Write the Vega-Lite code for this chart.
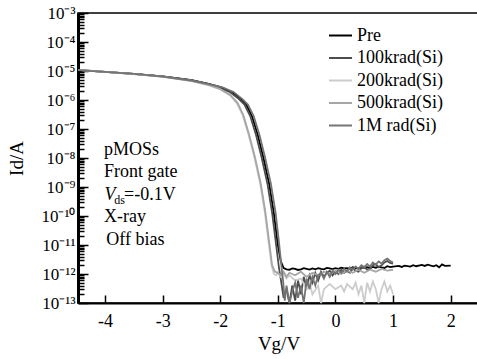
{
  "$schema": "https://vega.github.io/schema/vega-lite/v6.json",
  "autosize": {"type": "none"},
  "padding": {"left": 78, "top": 13, "right": 0, "bottom": 56},
  "width": 401,
  "height": 290,
  "background": "#ffffff",
  "config": {
    "view": {"stroke": "#000000", "strokeWidth": 1.5},
    "axis": {"grid": false, "domainColor": "#000000", "tickColor": "#000000", "labelColor": "#000000", "titleColor": "#000000", "labelFont": "Liberation Serif", "titleFont": "Liberation Serif", "titleFontWeight": "normal"}
  },
  "layer": [
    {
      "data": {"values": [
        {"s":"Pre","V":-4.47,"I":1.07e-5},{"s":"Pre","V":-4.0,"I":9.3e-6},{"s":"Pre","V":-3.5,"I":7.9e-6},{"s":"Pre","V":-3.0,"I":6.5e-6},{"s":"Pre","V":-2.5,"I":4.8e-6},{"s":"Pre","V":-2.2,"I":3.6e-6},{"s":"Pre","V":-2.0,"I":2.8e-6},{"s":"Pre","V":-1.8,"I":1.9e-6},{"s":"Pre","V":-1.65,"I":1.1e-6},{"s":"Pre","V":-1.55,"I":7.1e-7},{"s":"Pre","V":-1.45,"I":2.8e-7},{"s":"Pre","V":-1.35,"I":6.3e-8},{"s":"Pre","V":-1.25,"I":1.0e-8},{"s":"Pre","V":-1.15,"I":1.26e-9},{"s":"Pre","V":-1.07,"I":1.26e-10},{"s":"Pre","V":-1.0,"I":1.0e-11},{"s":"Pre","V":-0.95,"I":2.8e-12},{"s":"Pre","V":-0.9,"I":1.6e-12},
        {"s":"Pre","V":-0.85,"I":1.45e-12},{"s":"Pre","V":-0.8,"I":1.4e-12},{"s":"Pre","V":-0.75,"I":1.55e-12},{"s":"Pre","V":-0.7,"I":1.5e-12},{"s":"Pre","V":-0.65,"I":1.38e-12},{"s":"Pre","V":-0.6,"I":1.45e-12},{"s":"Pre","V":-0.55,"I":1.6e-12},{"s":"Pre","V":-0.5,"I":1.5e-12},{"s":"Pre","V":-0.45,"I":1.42e-12},{"s":"Pre","V":-0.4,"I":1.55e-12},{"s":"Pre","V":-0.35,"I":1.45e-12},{"s":"Pre","V":-0.3,"I":1.6e-12},{"s":"Pre","V":-0.25,"I":1.5e-12},{"s":"Pre","V":-0.2,"I":1.45e-12},{"s":"Pre","V":-0.15,"I":1.62e-12},{"s":"Pre","V":-0.1,"I":1.55e-12},{"s":"Pre","V":-0.05,"I":1.48e-12},{"s":"Pre","V":0.0,"I":1.58e-12},{"s":"Pre","V":0.05,"I":1.5e-12},{"s":"Pre","V":0.1,"I":1.65e-12},{"s":"Pre","V":0.15,"I":1.55e-12},{"s":"Pre","V":0.2,"I":1.6e-12},{"s":"Pre","V":0.25,"I":1.52e-12},{"s":"Pre","V":0.3,"I":1.7e-12},{"s":"Pre","V":0.35,"I":1.6e-12},{"s":"Pre","V":0.4,"I":1.55e-12},{"s":"Pre","V":0.45,"I":1.68e-12},{"s":"Pre","V":0.5,"I":1.62e-12},{"s":"Pre","V":0.55,"I":1.72e-12},{"s":"Pre","V":0.6,"I":1.6e-12},{"s":"Pre","V":0.65,"I":1.75e-12},{"s":"Pre","V":0.7,"I":1.65e-12},{"s":"Pre","V":0.75,"I":1.8e-12},{"s":"Pre","V":0.8,"I":1.7e-12},{"s":"Pre","V":0.85,"I":1.62e-12},{"s":"Pre","V":0.9,"I":1.85e-12},{"s":"Pre","V":0.95,"I":1.72e-12},{"s":"Pre","V":1.0,"I":1.8e-12},{"s":"Pre","V":1.1,"I":1.9e-12},{"s":"Pre","V":1.15,"I":1.75e-12},{"s":"Pre","V":1.2,"I":1.95e-12},{"s":"Pre","V":1.3,"I":1.8e-12},{"s":"Pre","V":1.35,"I":2.0e-12},{"s":"Pre","V":1.4,"I":1.85e-12},{"s":"Pre","V":1.5,"I":2.05e-12},{"s":"Pre","V":1.55,"I":1.9e-12},{"s":"Pre","V":1.6,"I":2.1e-12},{"s":"Pre","V":1.7,"I":1.85e-12},{"s":"Pre","V":1.75,"I":2.0e-12},{"s":"Pre","V":1.8,"I":1.7e-12},{"s":"Pre","V":1.85,"I":2.15e-12},{"s":"Pre","V":1.9,"I":1.9e-12},{"s":"Pre","V":2.0,"I":1.95e-12},

        {"s":"100krad(Si)","V":-4.47,"I":1.1e-5},{"s":"100krad(Si)","V":-4.0,"I":9.4e-6},{"s":"100krad(Si)","V":-3.5,"I":7.9e-6},{"s":"100krad(Si)","V":-3.0,"I":6.5e-6},{"s":"100krad(Si)","V":-2.5,"I":4.8e-6},{"s":"100krad(Si)","V":-2.2,"I":3.5e-6},{"s":"100krad(Si)","V":-2.03,"I":2.7e-6},{"s":"100krad(Si)","V":-1.83,"I":1.85e-6},{"s":"100krad(Si)","V":-1.68,"I":1.1e-6},{"s":"100krad(Si)","V":-1.58,"I":7e-7},{"s":"100krad(Si)","V":-1.48,"I":2.8e-7},{"s":"100krad(Si)","V":-1.38,"I":6.3e-8},{"s":"100krad(Si)","V":-1.28,"I":1e-8},{"s":"100krad(Si)","V":-1.18,"I":1.26e-9},{"s":"100krad(Si)","V":-1.1,"I":1.3e-10},{"s":"100krad(Si)","V":-1.03,"I":1e-11},{"s":"100krad(Si)","V":-0.98,"I":1.6e-12},{"s":"100krad(Si)","V":-0.94,"I":5e-13},{"s":"100krad(Si)","V":-0.9,"I":1.5e-13},{"s":"100krad(Si)","V":-0.85,"I":3e-13},{"s":"100krad(Si)","V":-0.8,"I":1e-13},{"s":"100krad(Si)","V":-0.75,"I":4e-13},{"s":"100krad(Si)","V":-0.7,"I":1.2e-13},{"s":"100krad(Si)","V":-0.65,"I":6e-13},{"s":"100krad(Si)","V":-0.6,"I":2e-13},{"s":"100krad(Si)","V":-0.55,"I":8e-13},{"s":"100krad(Si)","V":-0.5,"I":3e-13},{"s":"100krad(Si)","V":-0.45,"I":9e-13},{"s":"100krad(Si)","V":-0.4,"I":5e-13},{"s":"100krad(Si)","V":-0.35,"I":1.1e-12},{"s":"100krad(Si)","V":-0.3,"I":6e-13},{"s":"100krad(Si)","V":-0.25,"I":1.2e-12},{"s":"100krad(Si)","V":-0.2,"I":8e-13},{"s":"100krad(Si)","V":-0.15,"I":1.1e-12},{"s":"100krad(Si)","V":-0.1,"I":1.3e-12},{"s":"100krad(Si)","V":-0.05,"I":9e-13},{"s":"100krad(Si)","V":0.0,"I":1.2e-12},{"s":"100krad(Si)","V":0.05,"I":1.0e-12},{"s":"100krad(Si)","V":0.1,"I":1.4e-12},{"s":"100krad(Si)","V":0.15,"I":1.1e-12},{"s":"100krad(Si)","V":0.2,"I":1.3e-12},{"s":"100krad(Si)","V":0.25,"I":1.1e-12},{"s":"100krad(Si)","V":0.3,"I":1.6e-12},{"s":"100krad(Si)","V":0.35,"I":1.3e-12},{"s":"100krad(Si)","V":0.4,"I":1.2e-12},{"s":"100krad(Si)","V":0.45,"I":1.6e-12},{"s":"100krad(Si)","V":0.5,"I":1.8e-12},{"s":"100krad(Si)","V":0.55,"I":1.4e-12},{"s":"100krad(Si)","V":0.6,"I":1.5e-12},{"s":"100krad(Si)","V":0.65,"I":2.0e-12},{"s":"100krad(Si)","V":0.7,"I":2.2e-12},{"s":"100krad(Si)","V":0.75,"I":1.7e-12},{"s":"100krad(Si)","V":0.8,"I":2.0e-12},{"s":"100krad(Si)","V":0.85,"I":2.5e-12},{"s":"100krad(Si)","V":0.9,"I":2.8e-12},{"s":"100krad(Si)","V":0.95,"I":2.4e-12},{"s":"100krad(Si)","V":1.0,"I":2.3e-12},

        {"s":"200krad(Si)","V":-4.47,"I":1.1e-5},{"s":"200krad(Si)","V":-4.0,"I":9.3e-6},{"s":"200krad(Si)","V":-3.5,"I":7.8e-6},{"s":"200krad(Si)","V":-3.0,"I":6.3e-6},{"s":"200krad(Si)","V":-2.5,"I":4.5e-6},{"s":"200krad(Si)","V":-2.2,"I":3.2e-6},{"s":"200krad(Si)","V":-2.0,"I":2.3e-6},{"s":"200krad(Si)","V":-1.82,"I":1.4e-6},{"s":"200krad(Si)","V":-1.71,"I":7.5e-7},{"s":"200krad(Si)","V":-1.61,"I":3e-7},{"s":"200krad(Si)","V":-1.51,"I":6.5e-8},{"s":"200krad(Si)","V":-1.41,"I":1.1e-8},{"s":"200krad(Si)","V":-1.31,"I":1.4e-9},{"s":"200krad(Si)","V":-1.23,"I":1.5e-10},{"s":"200krad(Si)","V":-1.16,"I":1.2e-11},{"s":"200krad(Si)","V":-1.11,"I":2e-12},{"s":"200krad(Si)","V":-1.07,"I":1e-12},{"s":"200krad(Si)","V":-1.03,"I":9e-13},{"s":"200krad(Si)","V":-1.0,"I":1.1e-12},{"s":"200krad(Si)","V":-0.95,"I":8e-13},{"s":"200krad(Si)","V":-0.9,"I":1e-12},{"s":"200krad(Si)","V":-0.85,"I":7e-13},{"s":"200krad(Si)","V":-0.8,"I":9e-13},{"s":"200krad(Si)","V":-0.7,"I":6e-13},{"s":"200krad(Si)","V":-0.6,"I":7e-13},{"s":"200krad(Si)","V":-0.5,"I":3e-13},{"s":"200krad(Si)","V":-0.45,"I":5e-13},{"s":"200krad(Si)","V":-0.4,"I":2e-13},{"s":"200krad(Si)","V":-0.3,"I":4e-13},{"s":"200krad(Si)","V":-0.25,"I":1e-13},{"s":"200krad(Si)","V":-0.2,"I":3e-13},{"s":"200krad(Si)","V":-0.1,"I":4.5e-13},{"s":"200krad(Si)","V":0.0,"I":3e-13},{"s":"200krad(Si)","V":0.1,"I":4e-13},{"s":"200krad(Si)","V":0.15,"I":2.5e-13},{"s":"200krad(Si)","V":0.2,"I":4.5e-13},{"s":"200krad(Si)","V":0.3,"I":3e-13},{"s":"200krad(Si)","V":0.35,"I":5e-13},{"s":"200krad(Si)","V":0.4,"I":2e-13},{"s":"200krad(Si)","V":0.45,"I":4e-13},{"s":"200krad(Si)","V":0.5,"I":1e-13},{"s":"200krad(Si)","V":0.55,"I":5e-13},{"s":"200krad(Si)","V":0.6,"I":2.5e-13},{"s":"200krad(Si)","V":0.65,"I":5.5e-13},{"s":"200krad(Si)","V":0.7,"I":3e-13},{"s":"200krad(Si)","V":0.75,"I":1e-13},{"s":"200krad(Si)","V":0.8,"I":3e-13},{"s":"200krad(Si)","V":0.85,"I":5.5e-13},{"s":"200krad(Si)","V":0.9,"I":2.5e-13},{"s":"200krad(Si)","V":0.95,"I":4e-13},{"s":"200krad(Si)","V":1.0,"I":2e-13},

        {"s":"500krad(Si)","V":-4.47,"I":1.1e-5},{"s":"500krad(Si)","V":-4.0,"I":9.3e-6},{"s":"500krad(Si)","V":-3.5,"I":7.8e-6},{"s":"500krad(Si)","V":-3.0,"I":6.4e-6},{"s":"500krad(Si)","V":-2.5,"I":4.6e-6},{"s":"500krad(Si)","V":-2.2,"I":3.3e-6},{"s":"500krad(Si)","V":-2.0,"I":2.4e-6},{"s":"500krad(Si)","V":-1.83,"I":1.5e-6},{"s":"500krad(Si)","V":-1.7,"I":8e-7},{"s":"500krad(Si)","V":-1.6,"I":3e-7},{"s":"500krad(Si)","V":-1.5,"I":6.5e-8},{"s":"500krad(Si)","V":-1.4,"I":1.1e-8},{"s":"500krad(Si)","V":-1.3,"I":1.4e-9},{"s":"500krad(Si)","V":-1.22,"I":1.5e-10},{"s":"500krad(Si)","V":-1.15,"I":1.2e-11},{"s":"500krad(Si)","V":-1.1,"I":2e-12},{"s":"500krad(Si)","V":-1.05,"I":1.2e-12},{"s":"500krad(Si)","V":-1.0,"I":1.1e-12},{"s":"500krad(Si)","V":-0.95,"I":9e-13},{"s":"500krad(Si)","V":-0.9,"I":1.2e-12},{"s":"500krad(Si)","V":-0.85,"I":8e-13},{"s":"500krad(Si)","V":-0.8,"I":1.1e-12},{"s":"500krad(Si)","V":-0.7,"I":9e-13},{"s":"500krad(Si)","V":-0.6,"I":1.2e-12},{"s":"500krad(Si)","V":-0.5,"I":8e-13},{"s":"500krad(Si)","V":-0.4,"I":1.1e-12},{"s":"500krad(Si)","V":-0.3,"I":9e-13},{"s":"500krad(Si)","V":-0.2,"I":1.2e-12},{"s":"500krad(Si)","V":-0.1,"I":1e-12},{"s":"500krad(Si)","V":0.0,"I":1.3e-12},{"s":"500krad(Si)","V":0.1,"I":1e-12},{"s":"500krad(Si)","V":0.2,"I":1.3e-12},{"s":"500krad(Si)","V":0.3,"I":1.1e-12},{"s":"500krad(Si)","V":0.4,"I":1.4e-12},{"s":"500krad(Si)","V":0.5,"I":1.1e-12},{"s":"500krad(Si)","V":0.6,"I":1.4e-12},{"s":"500krad(Si)","V":0.7,"I":1.2e-12},{"s":"500krad(Si)","V":0.8,"I":1.5e-12},{"s":"500krad(Si)","V":0.9,"I":1.3e-12},{"s":"500krad(Si)","V":1.0,"I":1.4e-12},

        {"s":"1M rad(Si)","V":-4.47,"I":1.08e-5},{"s":"1M rad(Si)","V":-4.0,"I":9.3e-6},{"s":"1M rad(Si)","V":-3.5,"I":7.9e-6},{"s":"1M rad(Si)","V":-3.0,"I":6.4e-6},{"s":"1M rad(Si)","V":-2.5,"I":4.7e-6},{"s":"1M rad(Si)","V":-2.2,"I":3.5e-6},{"s":"1M rad(Si)","V":-1.97,"I":2.8e-6},{"s":"1M rad(Si)","V":-1.77,"I":1.9e-6},{"s":"1M rad(Si)","V":-1.62,"I":1.1e-6},{"s":"1M rad(Si)","V":-1.52,"I":7e-7},{"s":"1M rad(Si)","V":-1.42,"I":2.8e-7},{"s":"1M rad(Si)","V":-1.32,"I":6.3e-8},{"s":"1M rad(Si)","V":-1.22,"I":1e-8},{"s":"1M rad(Si)","V":-1.12,"I":1.26e-9},{"s":"1M rad(Si)","V":-1.04,"I":1.3e-10},{"s":"1M rad(Si)","V":-0.98,"I":1.2e-11},{"s":"1M rad(Si)","V":-0.94,"I":2e-12},{"s":"1M rad(Si)","V":-0.91,"I":6e-13},{"s":"1M rad(Si)","V":-0.88,"I":1.2e-13},{"s":"1M rad(Si)","V":-0.85,"I":4e-13},{"s":"1M rad(Si)","V":-0.8,"I":1e-13},{"s":"1M rad(Si)","V":-0.75,"I":2.5e-13},{"s":"1M rad(Si)","V":-0.7,"I":5e-13},{"s":"1M rad(Si)","V":-0.65,"I":1.5e-13},{"s":"1M rad(Si)","V":-0.6,"I":4e-13},{"s":"1M rad(Si)","V":-0.55,"I":1e-13},{"s":"1M rad(Si)","V":-0.5,"I":7e-13},{"s":"1M rad(Si)","V":-0.45,"I":3e-13},{"s":"1M rad(Si)","V":-0.4,"I":8e-13},{"s":"1M rad(Si)","V":-0.35,"I":4e-13},{"s":"1M rad(Si)","V":-0.3,"I":9e-13},{"s":"1M rad(Si)","V":-0.25,"I":1.1e-12},{"s":"1M rad(Si)","V":-0.2,"I":7e-13},{"s":"1M rad(Si)","V":-0.15,"I":1.2e-12},{"s":"1M rad(Si)","V":-0.1,"I":8e-13},{"s":"1M rad(Si)","V":-0.05,"I":1.3e-12},{"s":"1M rad(Si)","V":0.0,"I":1e-12},{"s":"1M rad(Si)","V":0.05,"I":1.4e-12},{"s":"1M rad(Si)","V":0.1,"I":1.1e-12},{"s":"1M rad(Si)","V":0.15,"I":1.5e-12},{"s":"1M rad(Si)","V":0.2,"I":1.2e-12},{"s":"1M rad(Si)","V":0.25,"I":1.7e-12},{"s":"1M rad(Si)","V":0.3,"I":1.4e-12},{"s":"1M rad(Si)","V":0.35,"I":1.8e-12},{"s":"1M rad(Si)","V":0.4,"I":1.5e-12},{"s":"1M rad(Si)","V":0.45,"I":2.0e-12},{"s":"1M rad(Si)","V":0.5,"I":1.7e-12},{"s":"1M rad(Si)","V":0.55,"I":2.2e-12},{"s":"1M rad(Si)","V":0.6,"I":1.8e-12},{"s":"1M rad(Si)","V":0.65,"I":2.5e-12},{"s":"1M rad(Si)","V":0.7,"I":2.1e-12},{"s":"1M rad(Si)","V":0.75,"I":2.7e-12},{"s":"1M rad(Si)","V":0.8,"I":2.3e-12},{"s":"1M rad(Si)","V":0.85,"I":3.0e-12},{"s":"1M rad(Si)","V":0.9,"I":3.4e-12},{"s":"1M rad(Si)","V":0.95,"I":2.8e-12},{"s":"1M rad(Si)","V":1.0,"I":2.5e-12}
      ]},
      "mark": {"type": "line", "strokeWidth": 1.8},
      "encoding": {
        "x": {"field": "V", "type": "quantitative",
          "scale": {"domain": [-4.47, 2.492], "nice": false, "zero": false},
          "axis": {"orient": "bottom", "values": [-4, -3.5, -3, -2.5, -2, -1.5, -1, -0.5, 0, 0.5, 1, 1.5, 2], "labelExpr": "datum.value == round(datum.value) ? '' + datum.value : ''", "tickSize": {"condition": {"test": "datum.value == round(datum.value)", "value": -8}, "value": -4}, "tickWidth": 1.5, "domainWidth": 2, "labelPadding": 17, "labelFontSize": 18, "title": "Vg/V", "titleFontSize": 19, "titlePadding": 4}},
        "y": {"field": "I", "type": "quantitative",
          "scale": {"type": "log", "domain": [1e-13, 1e-3], "nice": false},
          "axis": {"orient": "left", "values": [1e-13,2e-13,3e-13,4e-13,5e-13,6e-13,7e-13,8e-13,9e-13,1e-12,2e-12,3e-12,4e-12,5e-12,6e-12,7e-12,8e-12,9e-12,1e-11,2e-11,3e-11,4e-11,5e-11,6e-11,7e-11,8e-11,9e-11,1e-10,2e-10,3e-10,4e-10,5e-10,6e-10,7e-10,8e-10,9e-10,1e-9,2e-9,3e-9,4e-9,5e-9,6e-9,7e-9,8e-9,9e-9,1e-8,2e-8,3e-8,4e-8,5e-8,6e-8,7e-8,8e-8,9e-8,1e-7,2e-7,3e-7,4e-7,5e-7,6e-7,7e-7,8e-7,9e-7,1e-6,2e-6,3e-6,4e-6,5e-6,6e-6,7e-6,8e-6,9e-6,1e-5,2e-5,3e-5,4e-5,5e-5,6e-5,7e-5,8e-5,9e-5,1e-4,2e-4,3e-4,4e-4,5e-4,6e-4,7e-4,8e-4,9e-4,1e-3],
            "labelExpr": "abs(log(datum.value)/LN10 - round(log(datum.value)/LN10)) < 0.001 ? ['10⁻³','10⁻⁴','10⁻⁵','10⁻⁶','10⁻⁷','10⁻⁸','10⁻⁹','10⁻¹⁰','10⁻¹¹','10⁻¹²','10⁻¹³'][round(-log(datum.value)/LN10) - 3] : ''",
            "tickSize": {"condition": {"test": "abs(log(datum.value)/LN10 - round(log(datum.value)/LN10)) < 0.001", "value": -10}, "value": -6}, "tickWidth": 1.5, "domainWidth": 3, "labelPadding": 13, "labelFontSize": 17, "title": "Id/A", "titleFontSize": 19, "titlePadding": 14}},
        "color": {"field": "s", "type": "nominal",
          "scale": {"domain": ["Pre", "100krad(Si)", "200krad(Si)", "500krad(Si)", "1M rad(Si)"], "range": ["#000000", "#4d4d4d", "#cccccc", "#a6a6a6", "#747474"]},
          "legend": {"orient": "none", "legendX": 250, "legendY": 10, "title": null, "padding": 0, "symbolType": "stroke", "symbolSize": 529, "symbolStrokeWidth": 2, "rowPadding": 0.5, "labelOffset": 4, "labelFont": "Liberation Serif", "labelFontSize": 18, "labelColor": "#000000"}}
      }
    },
    {
      "data": {"values": [{"t": "pMOSs"}]},
      "mark": {"type": "text", "align": "left", "baseline": "alphabetic", "fontSize": 18, "font": "Liberation Serif"},
      "encoding": {"text": {"field": "t"}, "x": {"datum": -4.02, "type": "quantitative"}, "y": {"datum": 1.27e-8, "type": "quantitative"}}
    },
    {
      "data": {"values": [{"t": "Front gate"}]},
      "mark": {"type": "text", "align": "left", "baseline": "alphabetic", "fontSize": 18, "font": "Liberation Serif"},
      "encoding": {"text": {"field": "t"}, "x": {"datum": -4.02, "type": "quantitative"}, "y": {"datum": 2.13e-9, "type": "quantitative"}}
    },
    {
      "data": {"values": [{"t": "V"}]},
      "mark": {"type": "text", "align": "left", "baseline": "alphabetic", "fontSize": 18, "font": "Liberation Serif", "fontStyle": "italic"},
      "encoding": {"text": {"field": "t"}, "x": {"datum": -4.01, "type": "quantitative"}, "y": {"datum": 3.56e-10, "type": "quantitative"}}
    },
    {
      "data": {"values": [{"t": "ds"}]},
      "mark": {"type": "text", "align": "left", "baseline": "alphabetic", "fontSize": 12, "font": "Liberation Serif"},
      "encoding": {"text": {"field": "t"}, "x": {"datum": -3.84, "type": "quantitative"}, "y": {"datum": 2.59e-10, "type": "quantitative"}}
    },
    {
      "data": {"values": [{"t": "=-0.1V"}]},
      "mark": {"type": "text", "align": "left", "baseline": "alphabetic", "fontSize": 18, "font": "Liberation Serif"},
      "encoding": {"text": {"field": "t"}, "x": {"datum": -3.67, "type": "quantitative"}, "y": {"datum": 3.56e-10, "type": "quantitative"}}
    },
    {
      "data": {"values": [{"t": "X-ray"}]},
      "mark": {"type": "text", "align": "left", "baseline": "alphabetic", "fontSize": 18, "font": "Liberation Serif"},
      "encoding": {"text": {"field": "t"}, "x": {"datum": -4.02, "type": "quantitative"}, "y": {"datum": 5.97e-11, "type": "quantitative"}}
    },
    {
      "data": {"values": [{"t": "Off bias"}]},
      "mark": {"type": "text", "align": "left", "baseline": "alphabetic", "fontSize": 18, "font": "Liberation Serif"},
      "encoding": {"text": {"field": "t"}, "x": {"datum": -3.98, "type": "quantitative"}, "y": {"datum": 1.0e-11, "type": "quantitative"}}
    }
  ]
}
